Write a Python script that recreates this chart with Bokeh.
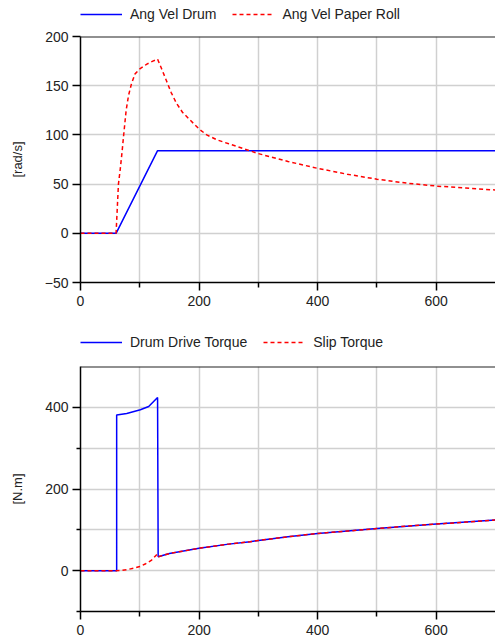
from bokeh.plotting import figure
from bokeh.layouts import column
from bokeh.models import Range1d, FixedTicker, Legend, LegendItem, Span
from bokeh.embed import file_html
from bokeh.resources import INLINE

# ---- data ----
drum_vel_t = [0, 60, 130, 700]
drum_vel_v = [0, 0, 84, 84]

roll_vel_t = [0, 60, 62, 64, 67, 70, 73, 77, 81, 86, 92, 100, 112, 122, 130,
              137, 145, 153, 162, 172, 185, 200, 213, 230, 250, 275, 300, 350,
              400, 450, 500, 550, 600, 650, 700]
roll_vel_v = [0, 0, 25, 50, 65, 82, 101, 125, 140, 152, 162, 167, 172, 175, 177,
              167, 155, 143, 132, 123, 115, 106, 100, 95, 91, 86, 81, 73,
              66, 60, 55, 51, 48, 46, 44]

slip_t = [0, 60, 70, 80, 90, 100, 110, 120, 129, 131, 150, 200, 250, 286, 300,
          350, 400, 450, 500, 550, 600, 650, 700]
slip_v = [0, 0, 1, 3, 6, 10, 17, 26, 40, 34, 42, 55, 65, 71, 74,
          83, 91, 97, 103, 109, 114, 119, 124]

drum_tq_t = [0, 61, 61, 78, 101, 115, 130, 131, 150, 200, 250, 286, 300,
             350, 400, 450, 500, 550, 600, 650, 700]
drum_tq_v = [0, 0, 381, 385, 394, 402, 424, 34, 42, 55, 65, 71, 74,
             83, 91, 97, 103, 109, 114, 119, 124]

top_labels = ["Ang Vel Drum", "Ang Vel Paper Roll"]
bot_labels = ["Drum Drive Torque", "Slip Torque"]

x_major = [0, 200, 400, 600]
x_minor = [100, 300, 500]
x_grid = [100, 200, 300, 400, 500, 600]

top_y_ticks = [-50, 0, 50, 100, 150, 200]
bot_y_major = [0, 200, 400]
bot_y_minor = [-100, 100, 300]
bot_y_grid = [0, 100, 200, 300, 400]

FONT = "Liberation Sans"
TXT = "#222222"
BLUE = "#0000ff"
RED = "#ff0000"
GRID = "#d0d0d0"
SOLID = dict(line_color=BLUE, line_width=1.5)
DASHED = dict(line_color=RED, line_width=1.5, line_dash="4 3")


def make_fig(height, top, bottom, yr, ylabel, y_major, y_minor, y_grid):
    p = figure(width=495, height=height, output_backend="svg", toolbar_location=None,
               x_range=Range1d(0, 700), y_range=Range1d(*yr),
               min_border_left=80, min_border_right=0,
               min_border_top=top, min_border_bottom=bottom)
    p.outline_line_color = None
    p.background_fill_color = "white"
    p.border_fill_color = "white"
    for ax in (p.xaxis[0], p.yaxis[0]):
        ax.axis_line_color = "black"
        ax.axis_line_width = 1.5
        ax.major_tick_line_color = "black"
        ax.minor_tick_line_color = "black"
        ax.major_tick_line_width = 1.5
        ax.minor_tick_line_width = 1.5
        ax.major_tick_in = 0
        ax.minor_tick_in = 0
        ax.major_label_text_font = FONT
        ax.major_label_text_font_size = "14px"
        ax.major_label_text_color = TXT
    p.xaxis.ticker = FixedTicker(ticks=x_major, minor_ticks=x_minor)
    p.xaxis.major_tick_out = 8
    p.xaxis.minor_tick_out = 5
    p.xaxis.major_label_standoff = 5
    p.yaxis.ticker = FixedTicker(ticks=y_major, minor_ticks=y_minor)
    p.yaxis.major_tick_out = 8
    p.yaxis.minor_tick_out = 4
    p.yaxis.major_label_standoff = 4
    p.yaxis.axis_label = ylabel
    p.yaxis.axis_label_text_font = FONT
    p.yaxis.axis_label_text_font_style = "normal"
    p.yaxis.axis_label_text_font_size = "13px"
    p.yaxis.axis_label_text_color = TXT
    p.yaxis.axis_label_standoff = 17
    p.xgrid.ticker = FixedTicker(ticks=x_grid)
    p.ygrid.ticker = FixedTicker(ticks=y_grid)
    for g in (p.xgrid[0], p.ygrid[0]):
        g.grid_line_color = GRID
        g.grid_line_width = 1.5
    p.add_layout(Span(location=yr[1], dimension="width", line_color="#222222",
                      line_width=2))
    return p


def legend_fig(height, labels, series_a, series_b):
    # the series are plotted far outside this strip's (hidden) range,
    # so only the legend entries are visible
    lf = figure(width=495, height=height, output_backend="svg", toolbar_location=None,
                x_range=Range1d(0, 700), y_range=Range1d(5000, 5001),
                x_axis_location=None, y_axis_location=None,
                min_border_left=80, min_border_right=0,
                min_border_top=0, min_border_bottom=0)
    lf.grid.visible = False
    lf.outline_line_color = None
    lf.background_fill_color = "white"
    lf.border_fill_color = "white"
    ra = lf.line(series_a[0], series_a[1], **SOLID)
    rb = lf.line(series_b[0], series_b[1], **DASHED)
    leg = Legend(items=[LegendItem(label=labels[0], renderers=[ra]),
                        LegendItem(label=labels[1], renderers=[rb])],
                 orientation="horizontal", location="top_left",
                 glyph_width=42, glyph_height=height, label_height=height,
                 label_standoff=8, spacing=16,
                 padding=0, margin=0, border_line_color=None,
                 background_fill_alpha=0, label_text_font=FONT,
                 label_text_font_size="14px", label_text_color=TXT)
    lf.add_layout(leg, "center")
    return lf


# ---- top chart ----
lf1 = legend_fig(28, top_labels, (drum_vel_t, drum_vel_v), (roll_vel_t, roll_vel_v))
p1 = make_fig(292, 8, 38, (-50, 200), "[rad/s]", top_y_ticks, [], top_y_ticks)
p1.line(drum_vel_t, drum_vel_v, **SOLID)
p1.line(roll_vel_t, roll_vel_v, **DASHED)

# ---- bottom chart ----
lf2 = legend_fig(44, bot_labels, (drum_tq_t, drum_tq_v), (slip_t, slip_v))
p2 = make_fig(278, 2, 31, (-100, 500), "[N.m]", bot_y_major, bot_y_minor, bot_y_grid)
p2.line(drum_tq_t, drum_tq_v, **SOLID)
p2.line(slip_t, slip_v, **DASHED)

layout = column(lf1, p1, lf2, p2, spacing=0)
open("out.html", "w").write(file_html(layout, INLINE))
